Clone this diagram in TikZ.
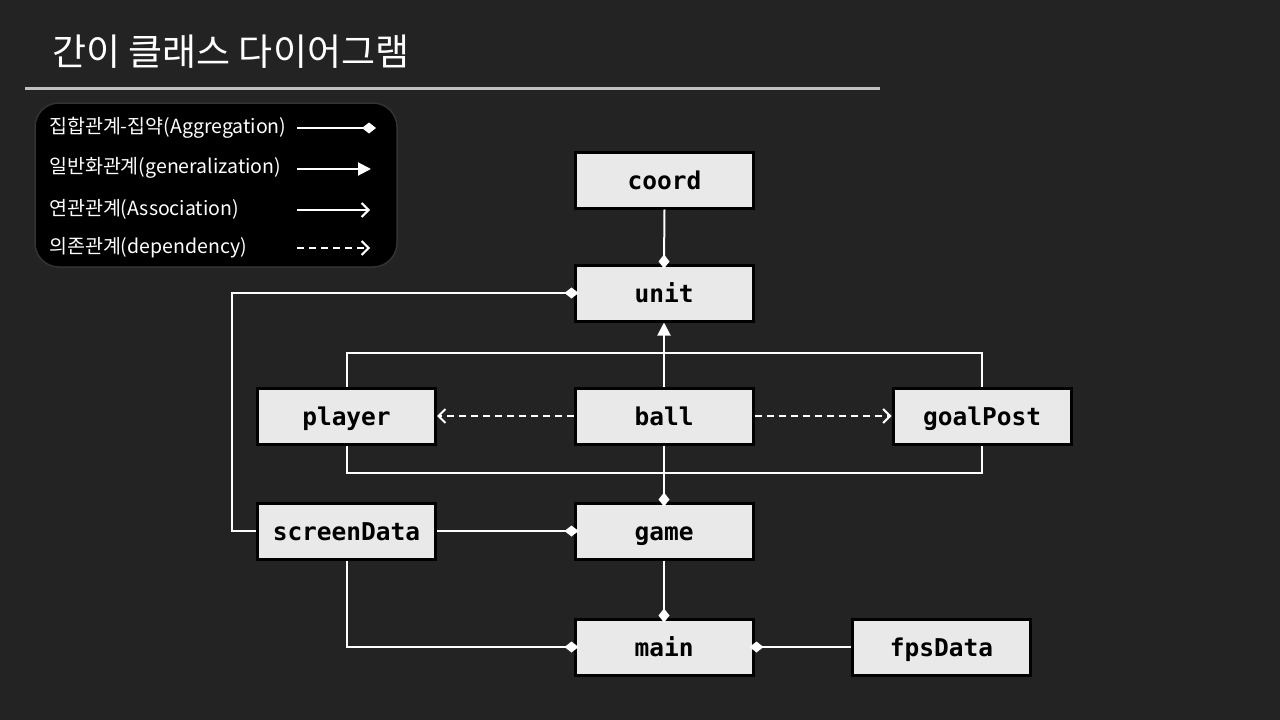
\documentclass[tikz,border=0pt]{standalone}
\usepackage{fontspec}
\setmainfont{Noto Sans CJK KR}
\newfontfamily\classfont{DejaVu Sans Mono}
\usepackage{tikz}
\usetikzlibrary{arrows.meta, positioning, calc}
\definecolor{bgdark}{RGB}{35,35,35}
\definecolor{boxfill}{RGB}{233,233,233}
\definecolor{ruleline}{RGB}{192,192,192}
\tikzset{
    classbox/.style={rectangle, minimum width=178pt, minimum height=56pt, text centered, text height=21pt, text depth=2pt, draw=black, line width=3pt, fill=boxfill, font=\classfont\bfseries\fontsize{24.5}{28}\selectfont},
    legendtext/.style={anchor=west, text=white, inner sep=0pt, font=\fontsize{19.5}{22}\selectfont},
    link/.style={draw=white, line width=2pt},
    aggr/.style={link, shorten >=-5pt, -{Diamond[length=14pt, width=11pt]}},
    gener/.style={link, -{Triangle[length=13pt, width=13pt]}},
    assoc/.style={link, -{Straight Barb[length=7pt, width=14pt, line width=2pt]}},
    depend/.style={link, dashed, dash pattern=on 7pt off 5pt, -{Straight Barb[length=7pt, width=14pt, line width=2pt]}}
}
\begin{document}
\begin{tikzpicture}[x=1pt, y=-1pt]
        % Background
        \fill[bgdark] (0,0) rectangle (1280,720);
        \useasboundingbox (0,0) rectangle (1280,720);

        % Title
        \node (title) at (52,52) [anchor=west, text=white, inner sep=0pt, font=\fontsize{37}{42}\selectfont] {간이 클래스 다이어그램};
        \draw[ruleline, line width=3pt] (25,88) -- (880,88);

        % Legend
        \draw[fill=black, draw=black!80, line width=1.5pt, rounded corners=24pt] (35,103) rectangle (397,267);
        \node (lagg) at (49,128) [legendtext] {집합관계-집약(Aggregation)};
        \node (lgen) at (49,168) [legendtext] {일반화관계(generalization)};
        \node (lass) at (49,209) [legendtext] {연관관계(Association)};
        \node (ldep) at (49,248) [legendtext] {의존관계(dependency)};
        \coordinate (lagg1) at (297,128); \coordinate (lagg2) at (371,128);
        \coordinate (lgen1) at (297,169); \coordinate (lgen2) at (371,169);
        \coordinate (lass1) at (297,210); \coordinate (lass2) at (370,210);
        \coordinate (ldep1) at (297,248); \coordinate (ldep2) at (370,248);
        \draw[aggr] (lagg1) -- (lagg2);
        \draw[gener] (lgen1) -- (lgen2);
        \draw[assoc] (lass1) -- (lass2);
        \draw[depend] (ldep1) -- (ldep2);

        % Classes
        \node (coord) at (664.5,180) [classbox] {coord};
        \node (unit) at (664,293) [classbox] {unit};
        \node (player) at (346.5,416) [classbox] {player};
        \node (ball) at (664,416) [classbox] {ball};
        \node (goalPost) at (982,416) [classbox] {goalPost};
        \node (screenData) at (346.5,531) [classbox] {screenData};
        \node (game) at (664,531) [classbox] {game};
        \node (main) at (664,647) [classbox] {main};
        \node (fpsData) at (941.5,647) [classbox] {fpsData};

        % Junctions
        \coordinate (gtop) at (664,353);
        \coordinate (gbot) at (664,473);

        % Relations
        \draw[aggr] (coord.south) -- (unit.north);
        \draw[aggr] (screenData.west) -- ++(-24,0) |- (unit.west);
        \draw[gener] (ball.north) -- (unit.south);
        \draw[link] (player.north) |- (gtop) -| (goalPost.north);
        \draw[link] (player.south) |- (gbot) -| (goalPost.south);
        \draw[aggr] (ball.south) -- (game.north);
        \draw[depend] (ball.west) -- (player.east);
        \draw[depend] (ball.east) -- (goalPost.west);
        \draw[aggr] (screenData.east) -- (game.west);
        \draw[aggr] (game.south) -- (main.north);
        \draw[aggr] (screenData.south) |- (main.west);
        \draw[aggr] (fpsData.west) -- (main.east);
    \end{tikzpicture}
\end{document}
